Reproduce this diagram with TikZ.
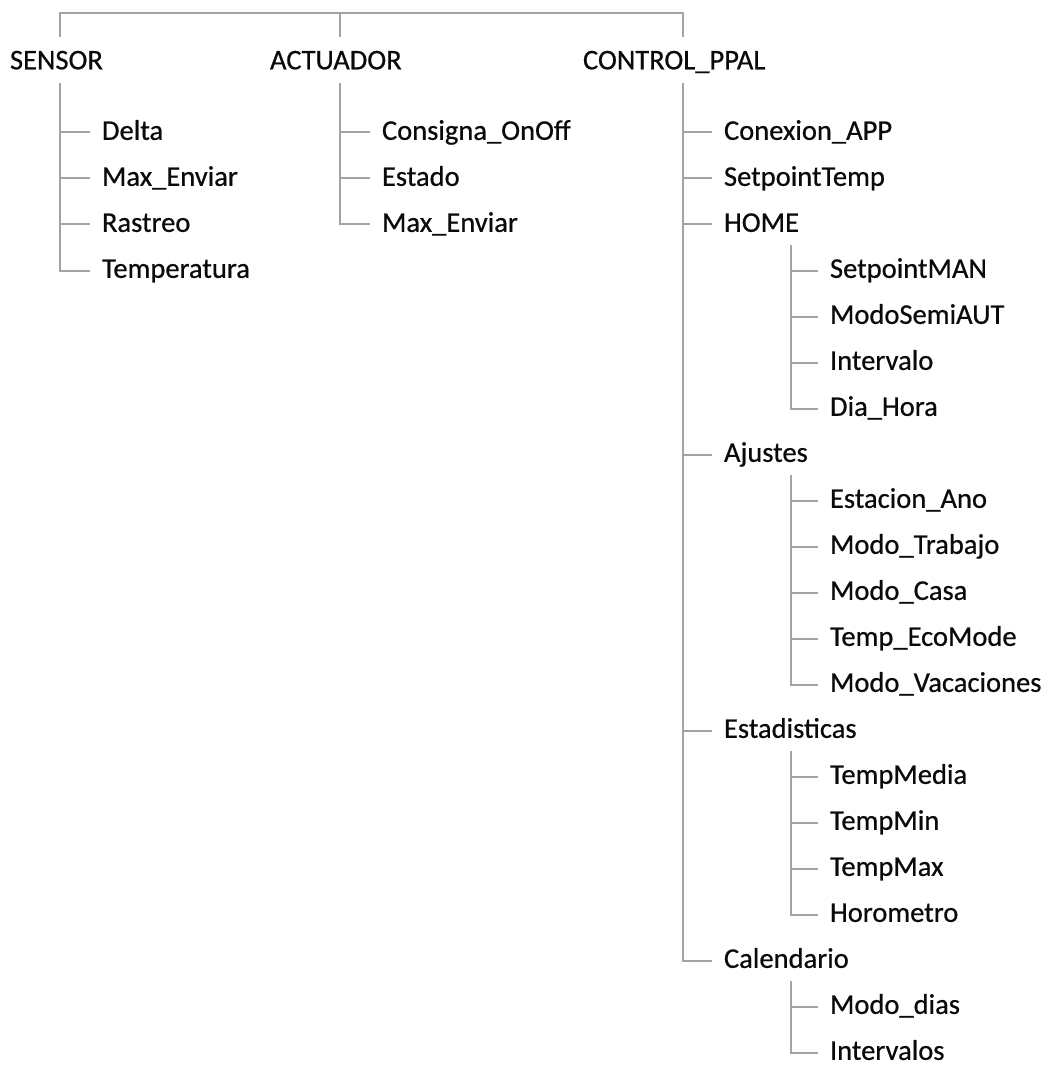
\documentclass[tikz,border=0pt]{standalone}
\usepackage{fontspec}
\setmainfont{Carlito}
\newfontfamily\itemfont{Carlito}[FakeBold=0.6]
\usepackage{xcolor}
\usepackage{tikz}
\usetikzlibrary{positioning}
\definecolor{linegray}{HTML}{A3A3A3}
\definecolor{ink}{HTML}{0A0A0A}
\newcommand{\rowgap}{46.0}
\tikzset{
    every picture/.style={line cap=butt,line join=miter},
    item/.style={anchor=west,inner sep=0pt,outer sep=0pt,
      text height=14pt,text depth=3pt,text=ink,
      font=\itemfont\fontsize{21.4}{25}\selectfont},
    branch/.style={draw=linegray,line width=1.5pt}
}

\begin{document}
\begin{tikzpicture}[x=0.75pt,y=-0.75pt]
  \useasboundingbox (0,0) rectangle (1052,1066);
  % columns of the vertical lines
  \coordinate (sx) at (60,0);
  \coordinate (ax) at (340,0);
  \coordinate (cx) at (683,0);
  \coordinate (hx) at (791,0);
  \coordinate (bar) at (0,13);

  % top level
  \node[item] (sensor) at (10,62) {SENSOR};
  \node[item] (act) at (270,62) {ACTUADOR};
  \node[item] (ppal) at (583,62) {CONTROL\_PPAL};
  \draw[branch] ([yshift=10pt]sx |- sensor.north) |- (bar -| cx)
    -- ([yshift=10pt]cx |- ppal.north);
  \draw[branch] (ax |- bar) -- ([yshift=10pt]ax |- act.north);

  % SENSOR
  \foreach \name/\txt [count=\i from 0] in
    {s1/Delta,s2/Max\_Enviar,s3/Rastreo,s4/Temperatura}
    \node[item] (\name) at (102,132.5+\rowgap*\i) {\txt};
  \foreach \n in {s1,s2,s3}
    \draw[branch] (sx |- \n.west) -- ([xshift=-9pt]\n.west);
  \draw[branch] ([yshift=-7pt]sx |- sensor.south) |- ([xshift=-9pt]s4.west);

  % ACTUADOR
  \foreach \name/\txt [count=\i from 0] in
    {a1/Consigna\_OnOff,a2/Estado,a3/Max\_Enviar}
    \node[item] (\name) at (382,132.5+\rowgap*\i) {\txt};
  \foreach \n in {a1,a2}
    \draw[branch] (ax |- \n.west) -- ([xshift=-9pt]\n.west);
  \draw[branch] ([yshift=-7pt]ax |- act.south) |- ([xshift=-9pt]a3.west);

  % CONTROL_PPAL
  \foreach \name/\row/\txt in
    {conexion/0/Conexion\_APP,setpoint/1/SetpointTemp,home/2/HOME,
     ajustes/7/Ajustes,estad/13/Estadisticas,cal/18/Calendario}
    \node[item] (\name) at (724,132.5+\rowgap*\row) {\txt};
  \foreach \n in {conexion,setpoint,home,ajustes,estad}
    \draw[branch] (cx |- \n.west) -- ([xshift=-9pt]\n.west);
  \draw[branch] ([yshift=-7pt]cx |- ppal.south) |- ([xshift=-9pt]cal.west);

  % HOME
  \foreach \name/\txt [count=\i from 3] in
    {h1/SetpointMAN,h2/ModoSemiAUT,h3/Intervalo,h4/Dia\_Hora}
    \node[item] (\name) at (830,132.5+\rowgap*\i) {\txt};
  \foreach \n in {h1,h2,h3}
    \draw[branch] (hx |- \n.west) -- ([xshift=-9pt]\n.west);
  \draw[branch] ([yshift=-7pt]hx |- home.south) |- ([xshift=-9pt]h4.west);

  % Ajustes
  \foreach \name/\txt [count=\i from 8] in
    {j1/Estacion\_Ano,j2/Modo\_Trabajo,j3/Modo\_Casa,j4/Temp\_EcoMode,
     j5/Modo\_Vacaciones}
    \node[item] (\name) at (830,132.5+\rowgap*\i) {\txt};
  \foreach \n in {j1,j2,j3,j4}
    \draw[branch] (hx |- \n.west) -- ([xshift=-9pt]\n.west);
  \draw[branch] ([yshift=-7pt]hx |- ajustes.south) |- ([xshift=-9pt]j5.west);

  % Estadisticas
  \foreach \name/\txt [count=\i from 14] in
    {e1/TempMedia,e2/TempMin,e3/TempMax,e4/Horometro}
    \node[item] (\name) at (830,132.5+\rowgap*\i) {\txt};
  \foreach \n in {e1,e2,e3}
    \draw[branch] (hx |- \n.west) -- ([xshift=-9pt]\n.west);
  \draw[branch] ([yshift=-7pt]hx |- estad.south) |- ([xshift=-9pt]e4.west);

  % Calendario
  \node[item] (k1) at (830,132.5+\rowgap*19) {Modo\_dias};
  \node[item] (k2) at (830,132.5+\rowgap*20) {Intervalos};
  \draw[branch] (hx |- k1.west) -- ([xshift=-9pt]k1.west);
  \draw[branch] ([yshift=-7pt]hx |- cal.south) |- ([xshift=-9pt]k2.west);
\end{tikzpicture}
\end{document}
